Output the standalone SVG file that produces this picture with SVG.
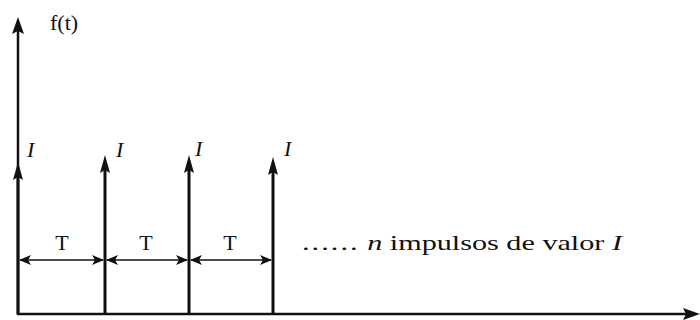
<svg xmlns="http://www.w3.org/2000/svg" width="700" height="320" viewBox="0 0 700 320">
<style>
.ax{stroke:#111;stroke-width:2.5;fill:none}
.imp{stroke:#111;stroke-width:3;fill:none}
.dim{stroke:#111;stroke-width:1.5;fill:none}
.head{fill:#111}
.t{font-family:'Liberation Serif','Times New Roman',serif;fill:#111;font-size:22px}
.it{font-style:italic}
</style>
<defs>
<marker id="dh" viewBox="0 0 12 10" refX="11" refY="5" markerWidth="12" markerHeight="10" markerUnits="userSpaceOnUse" orient="auto-start-reverse">
<path d="M0,0 L12,5 L0,10 L3,5 Z" fill="#111"/>
</marker>
</defs>
<g id="connectors">
<line class="ax" x1="18" y1="315" x2="18" y2="30"/>
<path class="head" d="M18,17 L24,34 L18,31 L12,34 Z"/>
<line class="ax" x1="17" y1="314" x2="688" y2="314"/>
<path class="head" d="M700,314 L683,308 L686,314 L683,320 Z"/>
<line class="dim" x1="20" y1="260" x2="103" y2="260" marker-start="url(#dh)" marker-end="url(#dh)"/>
<line class="dim" x1="107" y1="260" x2="187" y2="260" marker-start="url(#dh)" marker-end="url(#dh)"/>
<line class="dim" x1="191" y1="260" x2="271" y2="260" marker-start="url(#dh)" marker-end="url(#dh)"/>
</g>
<g id="impulse1">
<line class="imp" x1="18" y1="314" x2="18" y2="175"/>
<path class="head" d="M18,162 L23,180 L18,177 L13,180 Z"/>
<text class="t it" x="27" y="157">I</text>
</g>
<g id="impulse2">
<line class="imp" x1="105" y1="314" x2="105" y2="168"/>
<path class="head" d="M105,155 L110,173 L105,170 L100,173 Z"/>
<text class="t it" x="116" y="157">I</text>
</g>
<g id="impulse3">
<line class="imp" x1="189" y1="314" x2="189" y2="168"/>
<path class="head" d="M189,155 L194,173 L189,170 L184,173 Z"/>
<text class="t it" x="195" y="156">I</text>
</g>
<g id="impulse4">
<line class="imp" x1="273" y1="314" x2="273" y2="170"/>
<path class="head" d="M273,157 L278,175 L273,172 L268,175 Z"/>
<text class="t it" x="284" y="156">I</text>
</g>
<g id="labels">
<text class="t" x="50" y="30">f(t)</text>
<text class="t" x="62" y="250" text-anchor="middle">T</text>
<text class="t" x="146" y="250" text-anchor="middle">T</text>
<text class="t" x="230" y="250" text-anchor="middle">T</text>
<text class="t" x="302" y="250" font-size="23" textLength="320" lengthAdjust="spacingAndGlyphs"><tspan letter-spacing="1.5">......</tspan>  <tspan class="it">n</tspan> impulsos de valor <tspan class="it">I</tspan></text>
</g>
</svg>
